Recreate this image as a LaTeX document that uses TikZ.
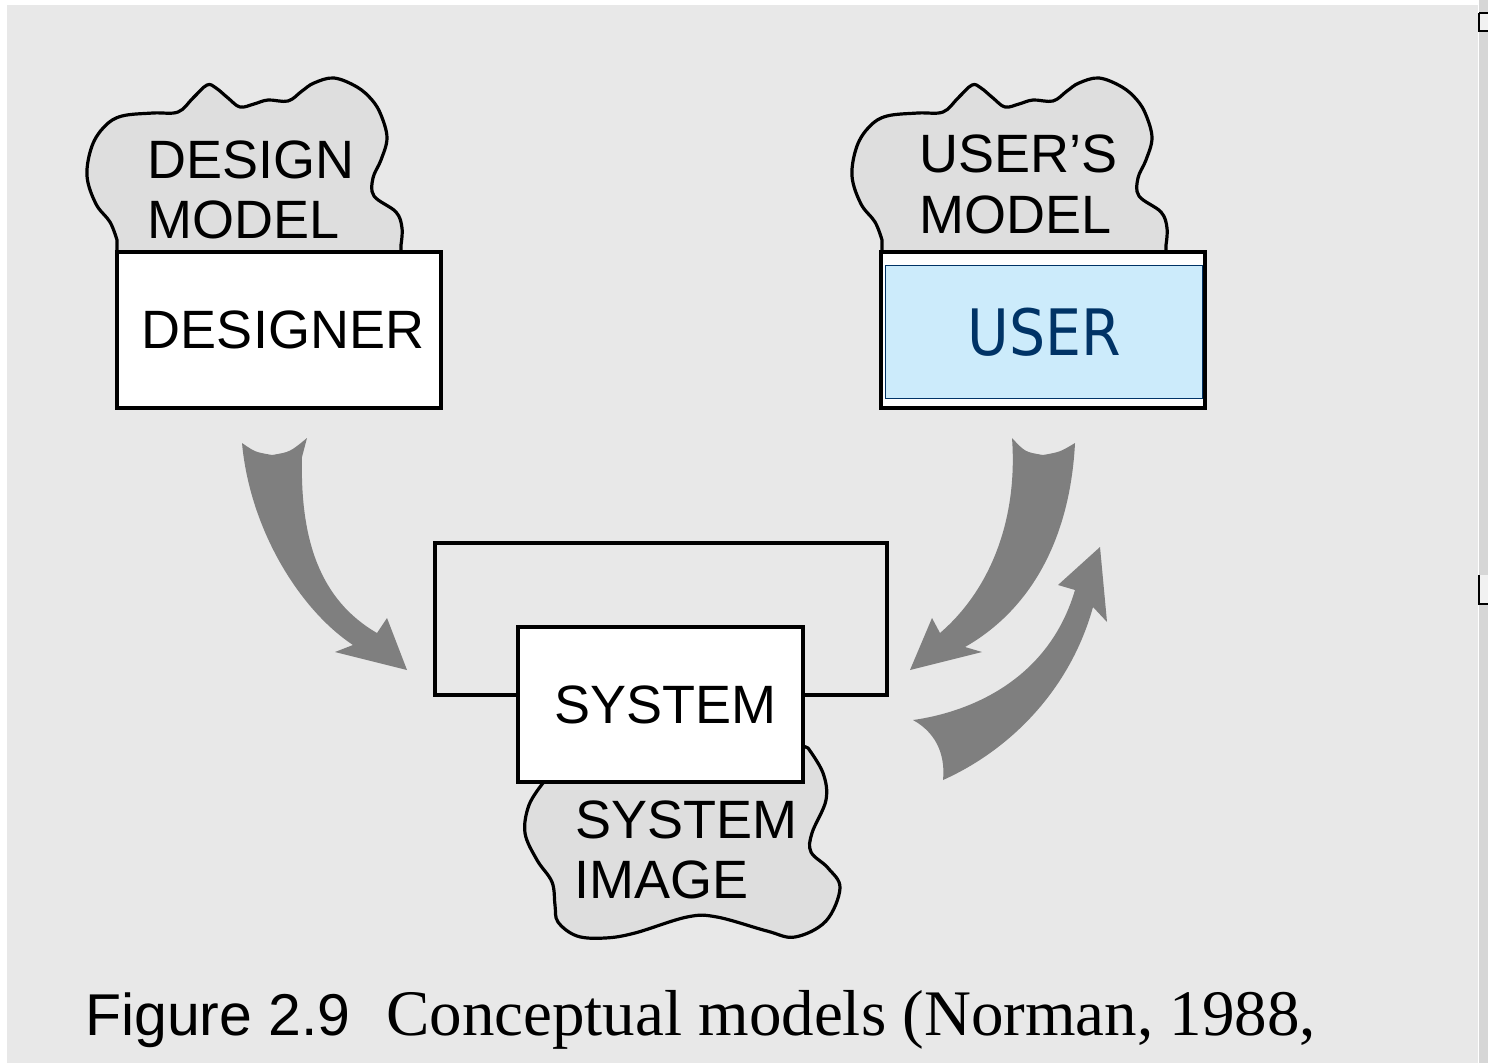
\documentclass[tikz,border=0pt]{standalone}
\usepackage{fontspec}
\setmainfont{Liberation Sans}
\newfontfamily\capserif{Liberation Serif}
\newfontfamily\userfont{DejaVu Sans}
\usepackage{graphicx}
\definecolor{bggray}{HTML}{E8E8E8}
\definecolor{cloudgray}{HTML}{DEDEDE}
\definecolor{arrowgray}{HTML}{7F7F7F}
\definecolor{userblue}{HTML}{CCEBFB}
\definecolor{navy}{HTML}{003366}
\definecolor{scrollgray}{HTML}{D6D6D6}
\tikzset{
  lbl/.style={font=\fontsize{54}{60}\selectfont, inner sep=0pt, anchor=base west},
  box/.style={draw=black, line width=3.2pt, fill=white, inner sep=0pt, font=\fontsize{54}{60}\selectfont},
  cloudstyle/.style={fill=cloudgray, draw=black, line width=3.2pt, line join=round},
  arrowshape/.style={fill=arrowgray},
}
\begin{document}
\begin{tikzpicture}[x=1pt,y=-1pt]
\useasboundingbox (0,0) rectangle (1488,1063);
\fill[white] (0,0) rectangle (1488,1063);
\fill[bggray] (7,5) rectangle (1478,1063);
% scrollbar strip
\fill[scrollgray] (1479,0) rectangle (1488,1063);
\fill[bggray!60!white] (1480,14) rectangle (1488,30);
\draw[black, line width=1.5pt] (1479,13) -- (1488,13) (1479,13) -- (1479,31) -- (1488,31);
\fill[bggray!60!white] (1480,575) rectangle (1488,603);
\draw[black, line width=1.5pt] (1479,575) -- (1479,604) -- (1488,604);

% ---------- design model cloud ----------
\path[cloudstyle] (117,300) -- plot[smooth, tension=0.6] coordinates {(117,240) (110,222) (96,204) (87,176) (92,146) (105,126) (122,116) (153,113) (178,112) (193,98) (207,85) (216,88) (228,98) (240,107) (254,104) (268,100) (288,101) (302,91) (314,83) (334,78) (357,87) (372,100) (381,115) (387,138) (381,160) (373,178) (374,196) (396,212) (402,228) (401,245)} -- (401,300) -- cycle;
\node[lbl] (dm1) at (147,178) {DESIGN};
\node[lbl] (dm2) at (147,238) {MODEL};

% ---------- user's model cloud ----------
\begin{scope}[shift={(765,0)}]
\path[cloudstyle] (117,300) -- plot[smooth, tension=0.6] coordinates {(117,240) (110,222) (96,204) (87,176) (92,146) (105,126) (122,116) (153,113) (178,112) (193,98) (207,85) (216,88) (228,98) (240,107) (254,104) (268,100) (288,101) (302,91) (314,83) (334,78) (357,87) (372,100) (381,115) (387,138) (381,160) (373,178) (374,196) (396,212) (402,228) (401,245)} -- (401,300) -- cycle;
\end{scope}
\node[lbl] (um1) at (919,172) {USER’S};
\node[lbl] (um2) at (919,233) {MODEL};

% ---------- designer box ----------
\node[box, minimum width=324pt, minimum height=156pt] (designer) at (279,330) {\hspace*{8pt}\raisebox{-2pt}{DESIGNER}};

% ---------- user box ----------
\node[box, minimum width=324pt, minimum height=156pt] (user) at (1043,330) {};
\node[draw=navy, line width=1.5pt, fill=userblue, inner sep=0pt, minimum width=317pt, minimum height=133pt, text=navy, font=\userfont\fontsize{64}{66}\selectfont] (userin) at (1044,332) {\scalebox{0.89}[1]{USER}};

% ---------- system frame, image cloud, system box ----------
\node[draw=black, line width=3.2pt, inner sep=0pt, minimum width=452pt, minimum height=152pt] (frame) at (661,619) {};
\path[cloudstyle] (560,760) -- plot[smooth, tension=0.6] coordinates {(543,783) (529,805) (525,833) (537,860) (552,882) (555,905) (558,922) (577,936) (605,938) (635,933) (687,917) (717,917) (767,931) (795,937) (826,921) (840,888) (828,868) (811,852) (812,833) (826,800) (823,773) (808,748)} -- (790,740) -- cycle;
\node[box, minimum width=285pt, minimum height=155pt] (system) at (660.5,704.5) {\hspace*{10pt}SYSTEM};
\node[lbl] (si1) at (575,838) {SYSTEM};
\node[lbl] (si2) at (574,898) {IMAGE};

% ---------- block arrows ----------
% designer -> system
\fill[arrowshape] (242,443) .. controls (255,452) .. (272,455) .. controls (290,452) .. (307,438)
  -- (302,457) .. controls (300,540) and (320,600) .. (377,633)
  -- (387,618) -- (407,670) -- (335,652) -- (353,645)
  .. controls (300,610) and (250,530) .. (242,443) -- cycle;
% user -> system
\fill[arrowshape] (1012,438) .. controls (1025,452) .. (1043,455) .. controls (1060,452) .. (1075,443)
  .. controls (1070,540) and (1030,610) .. (965,647)
  -- (982,652) -- (910,670) -- (932,618) -- (940,633)
  .. controls (990,590) and (1018,520) .. (1012,438) -- cycle;
% system -> user
\fill[arrowshape] (913,720) .. controls (950,715) and (1045,692) .. (1075,590)
  -- (1058,585) -- (1100,547) -- (1107,622) -- (1093,607)
  .. controls (1070,690) and (1010,750) .. (943,780)
  .. controls (945,760) and (940,735) .. (913,720) -- cycle;

% ---------- caption ----------
\node[inner sep=0pt, anchor=base west, font=\fontsize{59}{62}\selectfont] (figlbl) at (85,1035) {Figure 2.9};
\node[inner sep=0pt, anchor=base west, font=\capserif\fontsize{65}{66}\selectfont] (captxt) at (386,1035) {Conceptual models (Norman, 1988,};
\end{tikzpicture}
\end{document}
